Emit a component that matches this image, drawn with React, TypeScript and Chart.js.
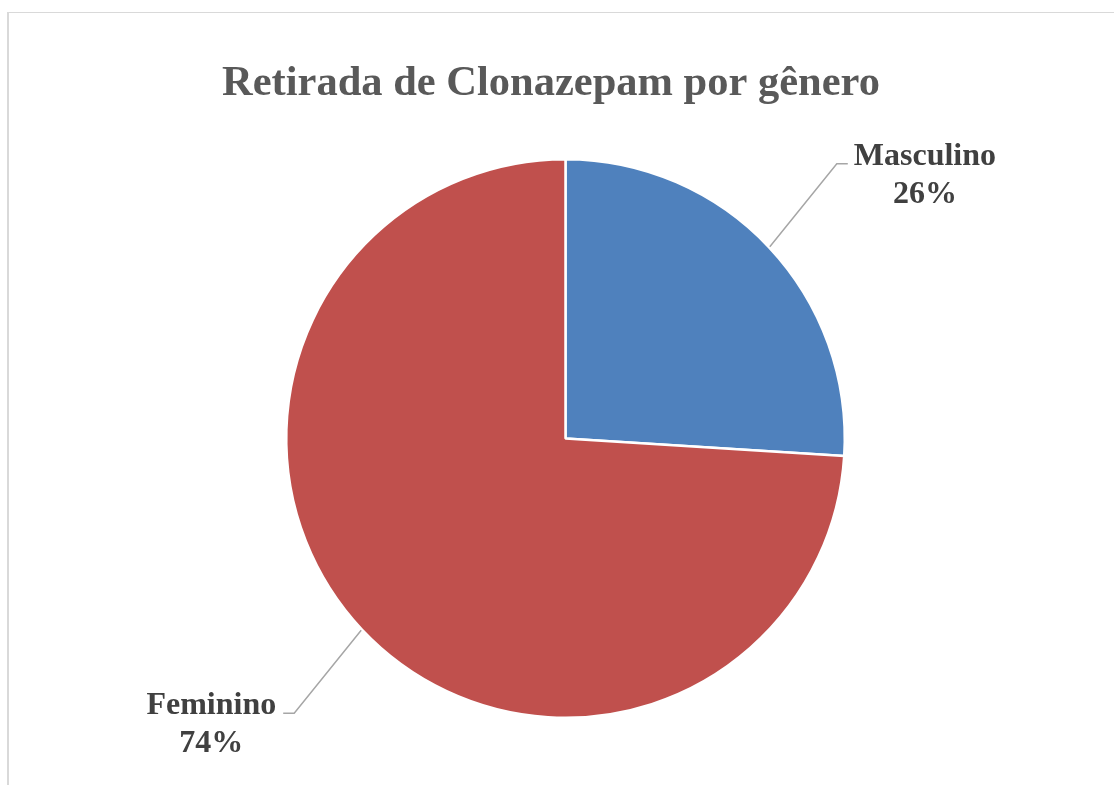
import React, { useEffect, useRef } from "react";
import { Chart, registerables } from "chart.js";

Chart.register(...registerables);

const titleText = "Retirada de Clonazepam por gênero";
const categories = ["Masculino", "Feminino"];
const values = [26, 74];
const colors = ["#4f81bd", "#c0504d"];

const titlePlugin = {
  id: "customTitle",
  afterDraw(chart: any) {
    const ctx = chart.ctx;
    ctx.save();
    ctx.font = 'bold 42.5px "Liberation Serif"';
    ctx.fillStyle = "#595959";
    ctx.textAlign = "center";
    ctx.textBaseline = "alphabetic";
    ctx.fillText(titleText, 551, 95);
    ctx.restore();
  },
};

const labelPlugin = {
  id: "pieLabels",
  afterDatasetsDraw(chart: any) {
    const ctx = chart.ctx;
    const meta = chart.getDatasetMeta(0);
    const data = chart.data.datasets[0].data as number[];
    const total = data.reduce((a, b) => a + b, 0);
    ctx.save();
    meta.data.forEach((arc: any, i: number) => {
      const { x, y, startAngle, endAngle, outerRadius } = arc.getProps(
        ["x", "y", "startAngle", "endAngle", "outerRadius"],
        true
      );
      const mid = (startAngle + endAngle) / 2;
      const c = Math.cos(mid);
      const s = Math.sin(mid);
      const ex = x + (outerRadius + 1) * c;
      const ey = y + (outerRadius + 1) * s;
      const dirX = c >= 0 ? 1 : -1;
      const dirY = s >= 0 ? 1 : -1;
      const bx = ex + dirX * 67;
      const by = ey + dirY * 83;
      const hx = bx + dirX * 11;
      ctx.strokeStyle = "#a6a6a6";
      ctx.lineWidth = 1.5;
      ctx.beginPath();
      ctx.moveTo(ex, ey);
      ctx.lineTo(bx, by);
      ctx.lineTo(hx, by);
      ctx.stroke();

      const line1 = chart.data.labels[i] as string;
      const line2 = Math.round((data[i] / total) * 100) + "%";
      ctx.font = 'bold 32px "Liberation Serif"';
      ctx.fillStyle = "#404040";
      ctx.textAlign = "center";
      ctx.textBaseline = "alphabetic";
      const w = Math.max(ctx.measureText(line1).width, ctx.measureText(line2).width);
      const cx = dirX > 0 ? hx + 6 + w / 2 : hx - 7 - w / 2;
      ctx.fillText(line1, cx, by + 1);
      ctx.fillText(line2, cx, by + 39);
    });
    ctx.restore();
  },
};

export default function App() {
  const ref = useRef<HTMLCanvasElement | null>(null);
  useEffect(() => {
    if (!ref.current) return;
    const chart = new Chart(ref.current, {
      type: "pie",
      data: {
        labels: categories,
        datasets: [
          {
            data: values,
            backgroundColor: colors,
            borderColor: "#ffffff",
            borderWidth: 2.5,
          },
        ],
      },
      options: {
        responsive: false,
        animation: false,
        layout: { padding: { top: 158, bottom: 66, left: 285, right: 268 } },
        plugins: {
          legend: { display: false },
          title: { display: false },
          tooltip: { enabled: false },
        },
      },
      plugins: [titlePlugin, labelPlugin],
    });
    return () => chart.destroy();
  }, []);
  return (
    <div
      style={{
        position: "fixed",
        left: 0,
        top: 0,
        width: 1114,
        height: 785,
        overflow: "hidden",
        background: "#ffffff",
      }}
    >
      <div
        style={{
          position: "absolute",
          left: 7,
          top: 12,
          width: 1200,
          height: 900,
          borderLeft: "2px solid #d9d9d9",
          borderTop: "1px solid #d9d9d9",
        }}
      />
      <canvas
        ref={ref}
        width={1114}
        height={785}
        style={{ position: "absolute", left: 0, top: 0, width: 1114, height: 785 }}
      />
    </div>
  );
}
